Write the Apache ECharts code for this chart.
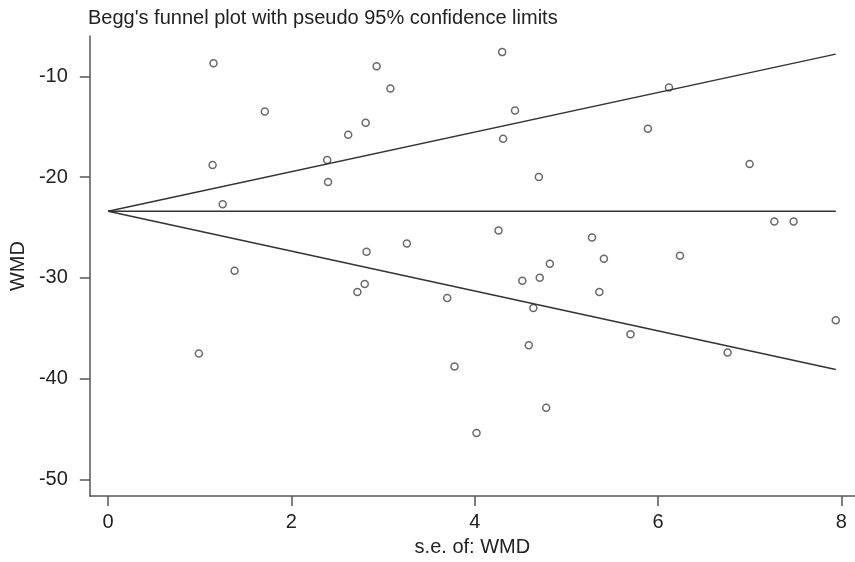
<!DOCTYPE html>
<html>
<head>
<meta charset="utf-8">
<script src="https://cdn.jsdelivr.net/npm/echarts@6/dist/echarts.min.js"></script>
<style>
html,body{margin:0;padding:0;background:#fff;}
#funnel{width:855px;height:562px;}
</style>
</head>
<body>
<div id="funnel"></div>
<script>
// standard error of each study (x) and its WMD (y)
var seValues = [1.15, 2.93, 3.08, 1.71, 2.81, 2.62, 2.39, 1.14, 2.40, 1.25,
                4.30, 6.12, 4.44, 4.31, 5.89, 4.70, 7.00, 7.27, 7.48,
                2.82, 1.38, 4.26, 3.26, 5.28, 5.41, 6.24, 4.82, 2.80, 2.72,
                0.99, 4.52, 4.71, 5.36, 3.70, 4.64, 5.70, 4.59, 3.78, 4.78,
                4.02, 7.94, 6.76];
var wmdValues = [-8.7, -9.0, -11.2, -13.5, -14.6, -15.8, -18.3, -18.8, -20.5, -22.7,
                 -7.6, -11.1, -13.4, -16.2, -15.2, -20.0, -18.7, -24.4, -24.4,
                 -27.4, -29.3, -25.3, -26.6, -26.0, -28.1, -27.8, -28.6, -30.6, -31.4,
                 -37.5, -30.3, -30.0, -31.4, -32.0, -33.0, -35.6, -36.7, -38.8, -42.9,
                 -45.4, -34.2, -37.4];
// pooled estimate and pseudo 95% limits (end points)
var limitSe = [0, 7.94];
var pooledLine = [-23.4, -23.4];
var upperLimit = [-23.4, -7.8];
var lowerLimit = [-23.4, -39.1];
var xTicks = [0, 2, 4, 6, 8];
var yTicks = [-10, -20, -30, -40, -50];

var points = [];
for (var i = 0; i < seValues.length; i++) {
	points.push([seValues[i], wmdValues[i]]);
}
function pairs(ys){
	return [[limitSe[0], ys[0]], [limitSe[1], ys[1]]];
}

var axisFont = {fontFamily: 'Liberation Sans', fontSize: 20, color: '#222'};
var lineStyle = {color: '#333', width: 1.5};

var myChart = echarts.init(document.getElementById('funnel'));
var option = {
	animation: false,
	backgroundColor: '#fff',
	title: {
		text: "Begg's funnel plot with pseudo 95% confidence limits",
		left: 83,
		top: 3,
		textStyle: {fontFamily: 'Liberation Sans', fontSize: 20, fontWeight: 'normal', color: '#222'}
	},
	grid: {left: 82, top: 36, right: 0, bottom: 59, containLabel: false},
	xAxis: {
		type: 'value',
		min: -0.2,
		max: 8.15,
		name: 's.e. of: WMD',
		nameLocation: 'middle',
		nameGap: 37,
		nameTextStyle: axisFont,
		axisLine: {show: true, onZero: false, lineStyle: {color: '#555', width: 1.5}},
		axisTick: {show: true, length: 10, customValues: xTicks, lineStyle: {color: '#555', width: 1.5}},
		axisLabel: Object.assign({customValues: xTicks, margin: 16}, axisFont),
		splitLine: {show: false}
	},
	yAxis: {
		type: 'value',
		min: -51.66,
		max: -6,
		name: 'WMD',
		nameLocation: 'middle',
		nameGap: 59,
		nameRotate: 90,
		nameTextStyle: axisFont,
		axisLine: {show: true, onZero: false, lineStyle: {color: '#555', width: 1.5}},
		axisTick: {show: true, length: 10, customValues: yTicks, lineStyle: {color: '#555', width: 1.5}},
		axisLabel: Object.assign({customValues: yTicks, margin: 22}, axisFont),
		splitLine: {show: false}
	},
	series: [
		{type: 'line', data: pairs(pooledLine), symbol: 'none', lineStyle: lineStyle, silent: true},
		{type: 'line', data: pairs(upperLimit), symbol: 'none', lineStyle: lineStyle, silent: true},
		{type: 'line', data: pairs(lowerLimit), symbol: 'none', lineStyle: lineStyle, silent: true},
		{
			type: 'scatter',
			data: points,
			symbol: 'circle',
			symbolSize: 7,
			itemStyle: {color: '#fff', borderColor: '#444', borderWidth: 1.5}
		}
	]
};
myChart.setOption(option);
</script>
</body>
</html>
